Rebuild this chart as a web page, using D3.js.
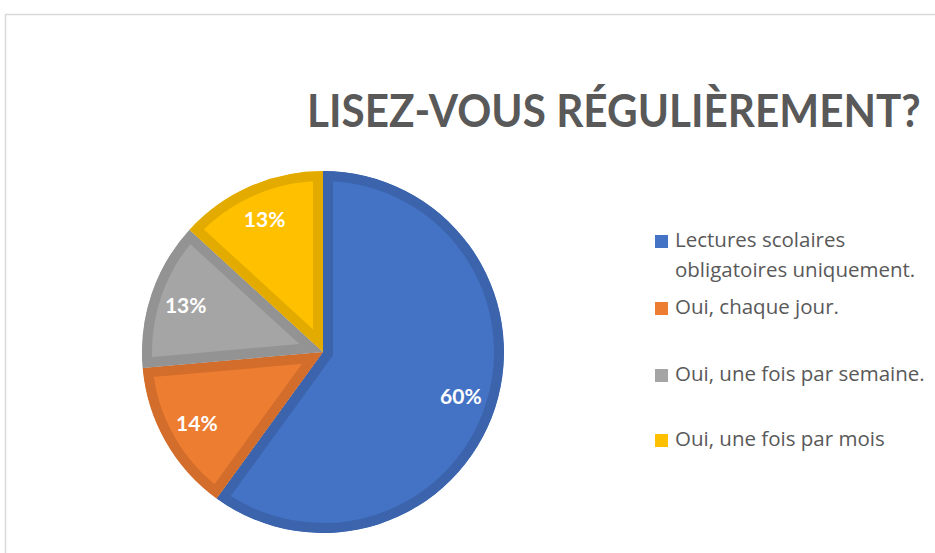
<!DOCTYPE html>
<html><head><meta charset="utf-8">
<script src="https://cdn.jsdelivr.net/npm/d3@7"></script>
<style>html,body{margin:0;padding:0;background:#fff;overflow:hidden}</style>
</head><body>
<svg id="c" width="935" height="553"></svg>
<script>
const title = "LISEZ-VOUS RÉGULIÈREMENT?";
const categories = ["Lectures scolaires obligatoires uniquement.", "Oui, chaque jour.", "Oui, une fois par semaine.", "Oui, une fois par mois"];
const legendLines = [["Lectures scolaires", "obligatoires uniquement."], ["Oui, chaque jour."], ["Oui, une fois par semaine."], ["Oui, une fois par mois"]];
const values = [60, 13.6, 13.2, 13.2];
const labels = ["60%", "14%", "13%", "13%"];
const fills = ["#4472C4", "#ED7D31", "#A5A5A5", "#FFC000"];
const borders = ["#3B64AD", "#D26D2B", "#939393", "#E3AB00"];

const svg = d3.select("#c");
const font = "Lato, 'Open Sans', sans-serif";

svg.append("rect").attr("x", 5.5).attr("y", 14.5).attr("width", 1000).attr("height", 600)
  .attr("fill", "#fff").attr("stroke", "#d9d9d9").attr("stroke-width", 1.5);

const titleG = svg.append("g");
const tt = titleG.append("text").attr("x", 0).attr("y", 0)
  .attr("font-family", font).attr("font-weight", 700).attr("font-size", 45)
  .attr("fill", "#595959").text(title);
const natW = tt.node().getComputedTextLength();
const sx = 614 / natW;
titleG.attr("transform", `translate(307,127) scale(${sx},1)`);

const cx = 323, cy = 352, R = 181;
const pie = d3.pie().sort(null).value(d => d)(values);
const arc = d3.arc().innerRadius(0).outerRadius(R);
const labelArc = d3.arc().innerRadius(145).outerRadius(145);
const g = svg.append("g").attr("transform", `translate(${cx},${cy})`);
const defs = svg.append("defs");
pie.forEach((p, i) => {
  defs.append("clipPath").attr("id", "cl" + i).append("path").attr("d", arc(p));
});
g.selectAll("path.s").data(pie).join("path").attr("class", "s")
  .attr("d", arc).attr("fill", (d, i) => fills[i])
  .attr("stroke", (d, i) => borders[i]).attr("stroke-width", 20)
  .attr("stroke-linejoin", "miter")
  .attr("clip-path", (d, i) => `url(#cl${i})`);
g.selectAll("text.l").data(pie).join("text").attr("class", "l")
  .attr("transform", d => `translate(${labelArc.centroid(d)})`)
  .attr("text-anchor", "middle").attr("dy", "0.36em")
  .attr("font-family", font).attr("font-weight", 700).attr("font-size", 21)
  .attr("fill", "#fff").text((d, i) => labels[i]);

const legY = [247, 314, 381, 446];
const lg = svg.append("g");
categories.forEach((c, i) => {
  lg.append("rect").attr("x", 655).attr("y", legY[i] - 12).attr("width", 13).attr("height", 13)
    .attr("fill", fills[i]);
  const t = lg.append("text").attr("x", 675).attr("y", legY[i])
    .attr("font-family", "'Open Sans', sans-serif").attr("font-size", 20.5).attr("fill", "#595959");
  legendLines[i].forEach((ln, j) => {
    t.append("tspan").attr("x", 675).attr("dy", j === 0 ? 0 : 30).text(ln);
  });
});
</script>
</body></html>
